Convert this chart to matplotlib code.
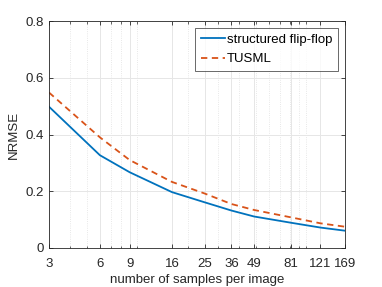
import matplotlib
matplotlib.use('Agg')
import matplotlib.pyplot as plt
from matplotlib.ticker import LogLocator, NullFormatter, FixedLocator, FixedFormatter

samples = [3, 6, 9, 16, 25, 36, 49, 81, 121, 169]
flipflop = [0.498, 0.327, 0.267, 0.197, 0.161, 0.132, 0.111, 0.089, 0.072, 0.061]
tusml = [0.548, 0.390, 0.310, 0.233, 0.192, 0.155, 0.134, 0.108, 0.087, 0.075]

plt.rcParams['font.family'] = ['Liberation Sans', 'DejaVu Sans']

fig = plt.figure(figsize=(3.82, 2.87), dpi=100)
ax = fig.add_axes([49 / 382, 1 - 248 / 287, 296 / 382, 227 / 287])

ax.plot(samples, flipflop, color='#0072BD', lw=1.3, label='structured flip-flop')
ax.plot(samples, tusml, color='#D95319', lw=1.3, ls=(0, (3.5, 2.5)), label='TUSML')

ax.set_xscale('log')
ax.set_xlim(3, 169)
ax.set_ylim(0, 0.8)
ax.xaxis.set_major_locator(FixedLocator(samples))
ax.xaxis.set_major_formatter(FixedFormatter([str(s) for s in samples]))
ax.xaxis.set_minor_locator(LogLocator(base=10, subs=range(1, 10)))
ax.xaxis.set_minor_formatter(NullFormatter())
ax.set_yticks([0, 0.2, 0.4, 0.6, 0.8])
ax.set_yticklabels(['0', '0.2', '0.4', '0.6', '0.8'])

# MATLAB-like grid: solid major, dotted minor
ax.grid(True, which='major', color='#e6e6e6', lw=0.7)
ax.grid(True, which='minor', axis='x', color='#e0e0e0', lw=0.6, ls=':')
ax.set_axisbelow(True)

ax.tick_params(which='both', direction='in', top=True, right=True, labelsize=9.5,
               color='#262626', labelcolor='#262626')
ax.tick_params(which='major', length=3, width=0.6)
ax.tick_params(axis='x', which='major', pad=7)
ax.tick_params(which='minor', length=1.8, width=0.5)
for sp in ax.spines.values():
    sp.set_color('#262626')
    sp.set_linewidth(0.6)

ax.set_xlabel('number of samples per image', fontsize=9.5, color='#262626', labelpad=3)
ax.set_ylabel('NRMSE', fontsize=9.5, color='#262626', labelpad=4)

leg = ax.legend(loc='upper right', fontsize=9.5, frameon=True, fancybox=False,
                edgecolor='#262626', handlelength=1.8, borderaxespad=0.5,
                borderpad=0.45, labelspacing=0.55, handletextpad=0.15)
leg.get_frame().set_linewidth(0.6)

fig.savefig('out.png', dpi=100)
